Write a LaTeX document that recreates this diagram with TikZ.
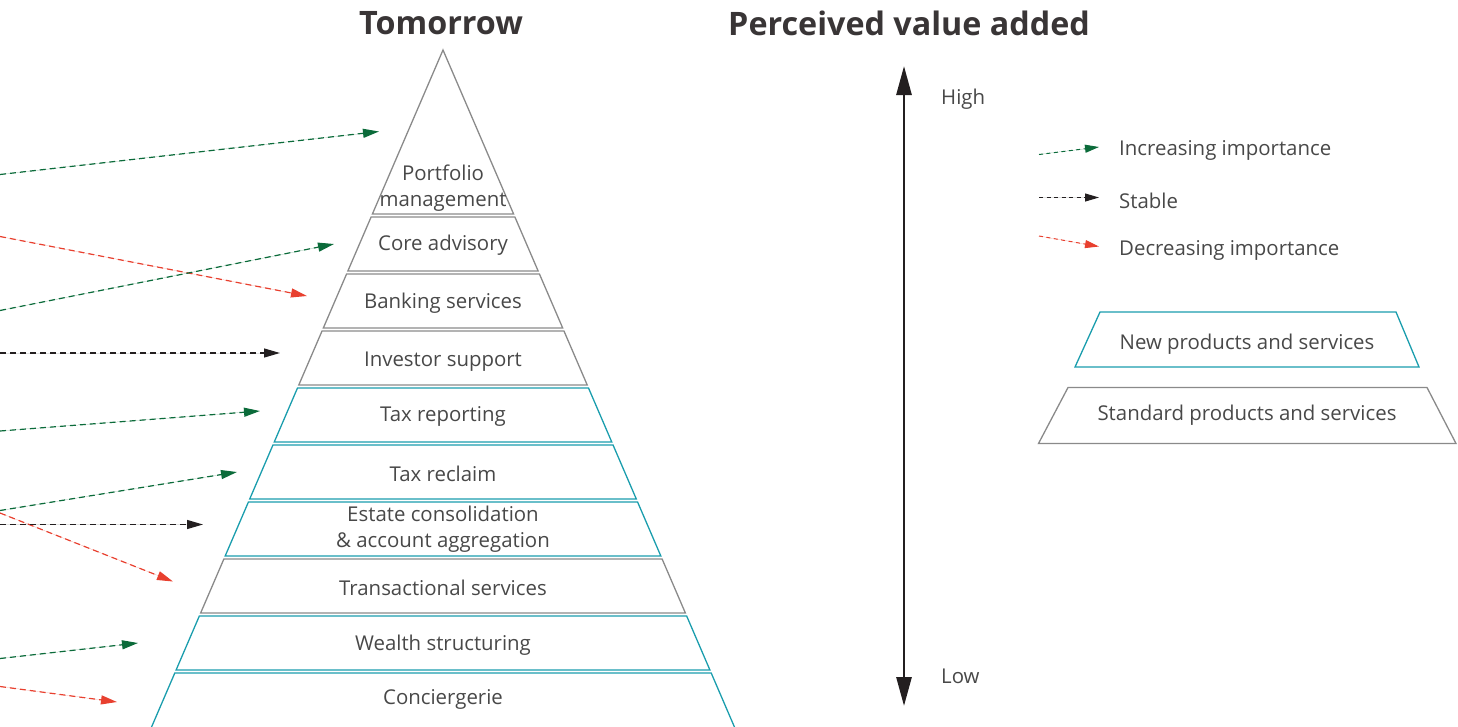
\documentclass[tikz,border=0pt]{standalone}
\usepackage{fontspec}
\setmainfont{Open Sans}
\usetikzlibrary{arrows.meta}
\definecolor{pteal}{HTML}{1A9DAD}
\definecolor{pgray}{HTML}{8A8A8A}
\definecolor{pgreen}{HTML}{0B6B3A}
\definecolor{pred}{HTML}{E8402F}
\definecolor{pblack}{HTML}{231F20}
\definecolor{ptext}{HTML}{484848}
\tikzset{
  layer/.style={line width=1.3pt, line join=miter},
  lbl/.style={font=\fontsize{20.4}{26}\selectfont, text=ptext, align=center, inner sep=0pt},
  ttl/.style={font=\bfseries\fontsize{32.3}{38}\selectfont, text=pblack!90!white, inner sep=0pt},
  trend/.style={line width=1.2pt, dash pattern=on 6pt off 4pt, -{Triangle[length=16pt,width=9pt]}},
  ltrend/.style={line width=1pt, dash pattern=on 4pt off 3.5pt, -{Triangle[length=14pt,width=8pt]}},
  upc/.style={draw=pgreen, fill=pgreen},
  dnc/.style={draw=pred, fill=pred},
  stc/.style={draw=pblack, fill=pblack},
}
\begin{document}
\begin{tikzpicture}[x=1pt,y=-1pt]
\useasboundingbox (0,0) rectangle (1458,726);
\clip (0,0) rectangle (1458,726);

% titles
\node[ttl] (t1) at (441,23) {Tomorrow};
\node[ttl] (t2) at (909,23) {Perceived value added};

% pyramid
\draw[layer, draw=pgray] (443,50) -- ({443+0.4305*164},214) -- ({443-0.4305*164},214) -- cycle;
\foreach \t/\b/\c in {217/271/pgray, 274/328/pgray, 331/385/pgray, 388/442/pteal, 445/499/pteal, 502/556/pteal, 559/613/pgray, 616/670/pteal, 673/760/pteal}
  \draw[layer, draw=\c] ({443-0.4305*(\t-50)},\t) -- ({443+0.4305*(\t-50)},\t) -- ({443+0.4305*(\b-50)},\b) -- ({443-0.4305*(\b-50)},\b) -- cycle;

\node[lbl] (l1) at (443,188.5) {Portfolio\\management};
\node[lbl] (l2) at (443,245.5) {Core advisory};
\node[lbl] (l3) at (443,303.5) {Banking services};
\node[lbl] (l4) at (443,361.5) {Investor support};
\node[lbl] (l5) at (443,416.5) {Tax reporting};
\node[lbl] (l6) at (443,473.5) {Tax reclaim};
\node[lbl] (l7) at (443,529.5) {Estate consolidation\\\& account aggregation};
\node[lbl] (l8) at (443,587.5) {Transactional services};
\node[lbl] (l9) at (443,645.5) {Wealth structuring};
\node[lbl] (l10) at (443,699.5) {Conciergerie};

% trend arrows
\coordinate (s1) at (0,174.5); \coordinate (e1) at (379,131.5);
\coordinate (s2) at (0,236.5); \coordinate (e2) at (307,296);
\coordinate (s3) at (0,310.5); \coordinate (e3) at (334,244);
\coordinate (s4) at (0,353);   \coordinate (e4) at (280,353);
\coordinate (s5) at (0,431);   \coordinate (e5) at (260,411);
\coordinate (s6) at (0,510.5); \coordinate (e6) at (237,472);
\coordinate (s7) at (0,513);   \coordinate (e7) at (173,581.5);
\coordinate (s8) at (0,524.5); \coordinate (e8) at (203,524.5);
\coordinate (s9) at (0,658.5); \coordinate (e9) at (138,643);
\coordinate (s10) at (0,686.5); \coordinate (e10) at (117,702);
\draw[trend, upc] (s1) -- (e1);
\draw[trend, dnc] (s2) -- (e2);
\draw[trend, upc] (s3) -- (e3);
\draw[trend, stc] (s4) -- (e4);
\draw[trend, upc] (s5) -- (e5);
\draw[trend, upc] (s6) -- (e6);
\draw[trend, dnc] (s7) -- (e7);
\draw[trend, stc] (s8) -- (e8);
\draw[trend, upc] (s9) -- (e9);
\draw[trend, dnc] (s10) -- (e10);

% value axis
\coordinate (axtop) at (904,66);
\coordinate (axbot) at (904,706);
\draw[line width=2.8pt, pblack, {Triangle[length=29pt,width=15pt]}-{Triangle[length=29pt,width=15pt]}] (axtop) -- (axbot);
\node[lbl, anchor=west] (high) at (941,99.5) {High};
\node[lbl, anchor=west] (low) at (941,676.5) {Low};

% legend
\coordinate (g1) at (1039,154.5); \coordinate (g2) at (1099,147);
\coordinate (k1) at (1039,197.5); \coordinate (k2) at (1099,197.5);
\coordinate (r1) at (1039,236);   \coordinate (r2) at (1099,246.5);
\draw[ltrend, upc] (g1) -- (g2);
\draw[ltrend, stc] (k1) -- (k2);
\draw[ltrend, dnc] (r1) -- (r2);
\node[lbl, anchor=west] (lg1) at (1119,150) {Increasing importance};
\node[lbl, anchor=west] (lg2) at (1119,200.5) {Stable};
\node[lbl, anchor=west] (lg3) at (1119,250) {Decreasing importance};

\draw[layer, draw=pteal] (1100,312) -- (1396,312) -- (1419,367) -- (1075,367) -- cycle;
\node[lbl] (newps) at (1247,344.5) {New products and services};
\draw[layer, draw=pgray] (1068,387.5) -- (1427,387.5) -- (1456,443.5) -- (1038.5,443.5) -- cycle;
\node[lbl] (stdps) at (1247,415.5) {Standard products and services};
\end{tikzpicture}
\end{document}
